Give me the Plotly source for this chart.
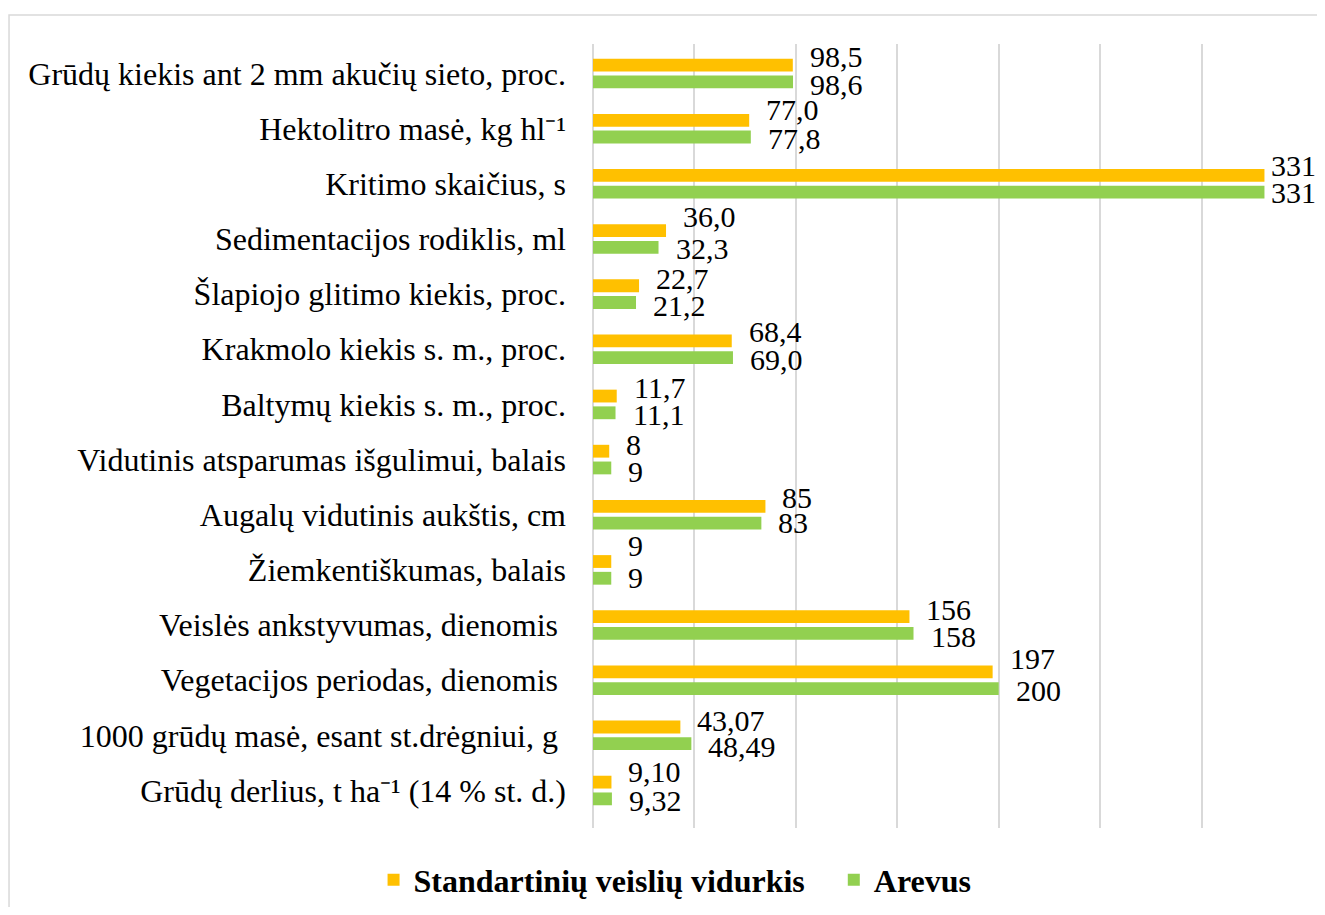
import plotly.graph_objects as go

categories = [
    "Grūdų kiekis ant 2 mm akučių sieto, proc.",
    "Hektolitro masė, kg hl⁻¹",
    "Kritimo skaičius, s",
    "Sedimentacijos rodiklis, ml",
    "Šlapiojo glitimo kiekis, proc.",
    "Krakmolo kiekis s. m., proc.",
    "Baltymų kiekis s. m., proc.",
    "Vidutinis atsparumas išgulimui, balais",
    "Augalų vidutinis aukštis, cm",
    "Žiemkentiškumas, balais",
    "Veislės ankstyvumas, dienomis\u00a0",
    "Vegetacijos periodas, dienomis\u00a0",
    "1000 grūdų masė, esant st.drėgniui, g\u00a0",
    "Grūdų derlius, t ha⁻¹ (14 % st. d.)",
]
standard_values = [98.5, 77.0, 331, 36.0, 22.7, 68.4, 11.7, 8, 85, 9, 156, 197, 43.07, 9.10]
arevus_values = [98.6, 77.8, 331, 32.3, 21.2, 69.0, 11.1, 9, 83, 9, 158, 200, 48.49, 9.32]
standard_labels = ["98,5", "77,0", "331", "36,0", "22,7", "68,4", "11,7", "8", "85", "9", "156", "197", "43,07", "9,10"]
arevus_labels = ["98,6", "77,8", "331", "32,3", "21,2", "69,0", "11,1", "9", "83", "9", "158", "200", "48,49", "9,32"]
series_names = ["Standartinių veislių vidurkis", "Arevus"]

# label offsets (px; positive = up / right) - styling only
dy_std = [17, 19, 18, 22, 16, 18, 17, 15.5, 17, 24, 16, 21.5, 15, 19]
dy_are = [-11, -10, -9, -10, -11.5, -10, -10, -11.5, -8, -8, -11, -10.5, -11, -10]
dx_std = [15, 15, 5, 15, 15, 15, 15, 15, 15, 15, 15, 15, 15, 15]
dx_are = [15, 15, 5, 15, 15, 15, 15, 15, 15, 15, 15, 15, 15, 15]

ORANGE = "#FFC000"
GREEN = "#92D050"
FONT = "Liberation Serif"

fig = go.Figure()
fig.add_trace(go.Bar(y=categories, x=standard_values, orientation="h",
                     name="<b>" + series_names[0] + "\u00a0\u00a0\u00a0</b>",
                     marker=dict(color=ORANGE, line_width=0)))
fig.add_trace(go.Bar(y=categories, x=arevus_values, orientation="h",
                     name="<b>" + series_names[1] + "</b>", marker=dict(color=GREEN, line_width=0)))

annotations = []
for vals, labs, dys, dxs in ((standard_values, standard_labels, dy_std, dx_std),
                             (arevus_values, arevus_labels, dy_are, dx_are)):
    for cat, v, lab, dy, dx in zip(categories, vals, labs, dys, dxs):
        annotations.append(dict(x=v, y=cat, xref="x", yref="y", text=lab, showarrow=False,
                                xanchor="left", yanchor="middle", xshift=dx, yshift=dy,
                                font=dict(family=FONT, size=30, color="black")))

# the page body adds an 8px offset; figure is sized so the page does not overflow
fig.update_layout(
    width=1317, height=899,
    margin=dict(l=585, r=22, t=36, b=79, autoexpand=False),
    paper_bgcolor="white", plot_bgcolor="white",
    barmode="group", bargap=0.393, bargroupgap=0.235,
    font=dict(family=FONT, size=32, color="black"),
    annotations=annotations,
    showlegend=True,
    legend=dict(orientation="h", xref="container", yref="container", x=0.5065, y=0.030,
                xanchor="center", yanchor="middle", font=dict(family=FONT, size=32, color="black"),
                itemwidth=30, traceorder="normal"),
    shapes=[dict(type="rect", xref="paper", yref="paper", x0=-0.8225, x1=1.2, y0=-0.3, y1=1.037,
                 line=dict(color="#D9D9D9", width=1.5), fillcolor="rgba(0,0,0,0)", layer="below")],
)
fig.update_xaxes(range=[0, 350], dtick=50, showticklabels=False, showgrid=True,
                 gridcolor="#D9D9D9", gridwidth=1.5, zeroline=True, zerolinecolor="#D9D9D9",
                 zerolinewidth=1.5, showline=False, fixedrange=True)
fig.update_yaxes(autorange="reversed", showgrid=False, showline=False, ticks="",
                 ticklabelstandoff=26, automargin=False, tickfont=dict(family=FONT, size=32, color="black"))

fig.write_html("out.html")
